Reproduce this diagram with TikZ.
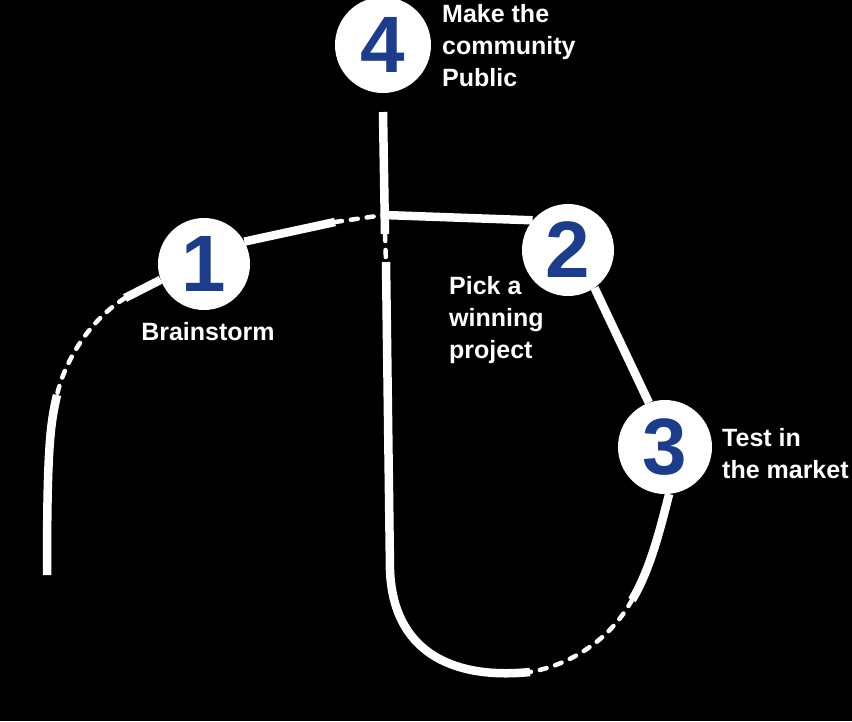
\documentclass[tikz,border=0pt]{standalone}
\usepackage{fontspec}
\setmainfont{Liberation Sans}
\definecolor{numblue}{RGB}{28,61,140}

\begin{document}
\begin{tikzpicture}[
  x=1pt, y=-1pt,
  stage/.style    = {circle, fill=white, inner sep=0pt, minimum size=#1,
                     text=numblue, font=\bfseries\fontsize{80}{80}\selectfont},
  track/.style    = {white, line width=8.5pt},
  fadetrack/.style = {white, line width=4.5pt, line cap=round,
                      dash pattern=on 7pt off 9pt},
  lbl/.style      = {text=white, inner sep=0pt, align=left,
                     font=\bfseries\fontsize{25}{32}\selectfont},
]

  \fill[black] (0,0) rectangle (852,721);
  \useasboundingbox (0,0) rectangle (852,721);

  \node[stage=96] (s4) at (383,45)  {4};
  \node[stage=92] (s1) at (204,264) {1};
  \node[stage=92] (s2) at (568,250) {2};
  \node[stage=94] (s3) at (665,447) {3};

  \coordinate (top)   at (383,112);
  \coordinate (cross) at (384,215);
  \coordinate (dropA) at (385,234);
  \coordinate (dropB) at (386,262);
  \coordinate (leftA) at (335,222);
  \coordinate (bowlA) at (530,672);
  \coordinate (bowlB) at (632,600);
  \coordinate (tailA) at (125,298);
  \coordinate (tailB) at (57,395);
  \coordinate (tailC) at (47,575);

  % upper cross
  \draw[track]     (top) -- (dropA);
  \draw[fadetrack] (dropA) -- (dropB);
  \draw[track]     (cross) -- (s2.140);
  \draw[track]     (s1.29) -- (leftA);
  \draw[fadetrack] (leftA) -- (cross);

  % round trip through 2 and 3
  \draw[track]     (s2.-55) -- (s3.110);
  \draw[track]     (s3.-85) .. controls (660,530) and (650,570) .. (bowlB);
  \draw[fadetrack] (bowlB) .. controls (610,640) and (570,665) .. (bowlA);
  \draw[track]     (bowlA) .. controls (450,680) and (393,650) .. (390,570)
                   -- (dropB);

  % tail on the left
  \draw[track]     (s1.200) -- (tailA);
  \draw[fadetrack] (tailA) .. controls (90,320) and (65,360) .. (tailB);
  \draw[track]     (tailB) .. controls (50,425) and (47,450) .. (tailC);

  \node[lbl, anchor=north west] (t4) at (442,4)   {Make the\\community\\Public};
  \node[lbl, anchor=north]      (t1) at (208,322) {Brainstorm};
  \node[lbl, anchor=north west] (t2) at (449,276) {Pick a\\winning\\project};
  \node[lbl, anchor=north west] (t3) at (722,428) {Test in\\the market};
\end{tikzpicture}
\end{document}
